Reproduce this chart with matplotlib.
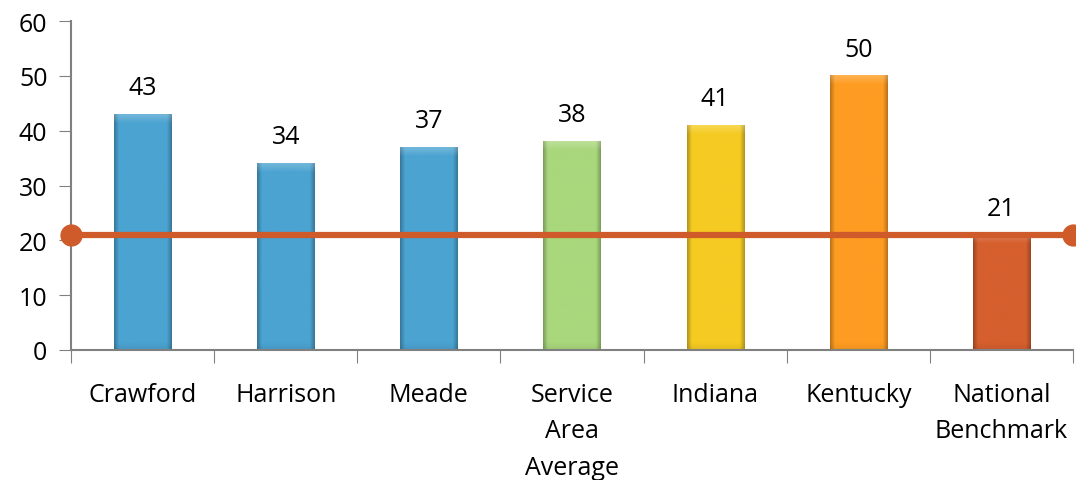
import matplotlib
matplotlib.use("Agg")
import matplotlib.pyplot as plt
import numpy as np
from matplotlib.ticker import FixedLocator
from matplotlib.colors import to_rgb

plt.rcParams['font.family'] = ['Open Sans', 'DejaVu Sans']

categories = ["Crawford", "Harrison", "Meade", "Service\nArea\nAverage", "Indiana", "Kentucky", "National\nBenchmark"]
values = [43, 34, 37, 38, 41, 50, 21]
benchmark = 21
colors = ["#4BA3D1", "#4BA3D1", "#4BA3D1", "#A9D77C", "#F5CB22", "#FE9C22", "#D65F2E"]
y_ticks = [0, 10, 20, 30, 40, 50, 60]

fig = plt.figure(figsize=(10.76, 4.81), dpi=100)
ax = fig.add_axes([71/1076, 130/481, 1002/1076, 329/481])

x = list(range(len(categories)))
bars = ax.bar(x, values, width=0.4, color=colors, linewidth=0, zorder=2)

# bevel-like shading
for b, c in zip(bars, colors):
    base = np.array(to_rgb(c))
    nx, ny = 60, 300
    u = np.linspace(0, 1, nx)
    side = np.clip(np.minimum(u, 1 - u) / 0.08, 0, 1)
    shade = 0.74 + 0.26 * side
    img = np.ones((ny, nx, 3)) * base
    img = img * shade[None, :, None]
    h_px = b.get_height() * 329 / 60
    rows = np.arange(ny) * h_px / ny  # px from top
    top_w = np.clip(1 - rows / 9.0, 0, 1) * 0.22
    bot_w = np.clip(1 - (h_px - rows) / 8.0, 0, 1) * 0.08
    img = img * (1 - top_w)[:, None, None] + top_w[:, None, None]
    img = img * (1 - bot_w)[:, None, None]
    ax.imshow(np.clip(img, 0, 1), extent=(b.get_x(), b.get_x() + b.get_width(), 0, b.get_height()),
              aspect='auto', zorder=2.1, interpolation='bilinear')

for xi, v in zip(x, values):
    ax.text(xi, v + 2.6, str(v), ha='center', va='bottom', fontsize=18, color='black', zorder=4)

ax.plot([-0.5, len(categories) - 0.5], [benchmark, benchmark], color="#CF5A2A", lw=4.5,
        marker='o', markersize=15, zorder=3, clip_on=False)

ax.set_xlim(-0.5, len(categories) - 0.5)
ax.set_ylim(0, 60)
ax.set_yticks(y_ticks)
ax.set_yticklabels([str(t) for t in y_ticks], fontsize=18)
ax.xaxis.set_major_locator(FixedLocator([i - 0.5 for i in range(len(categories) + 1)]))
ax.xaxis.set_major_formatter(plt.NullFormatter())
ax.set_xticks(x, minor=True)
ax.set_xticklabels(categories, minor=True, fontsize=18, linespacing=1.6, va='top')
ax.tick_params(axis='x', which='minor', length=0, pad=23)
ax.tick_params(axis='x', which='major', length=9, color='#808080', direction='out')
ax.tick_params(axis='y', length=9, color='#808080', direction='out', pad=8)

for s in ['top', 'right']:
    ax.spines[s].set_visible(False)
for s in ['left', 'bottom']:
    ax.spines[s].set_color('#808080')
    ax.spines[s].set_linewidth(1.5)

fig.savefig("out.png", dpi=100)
